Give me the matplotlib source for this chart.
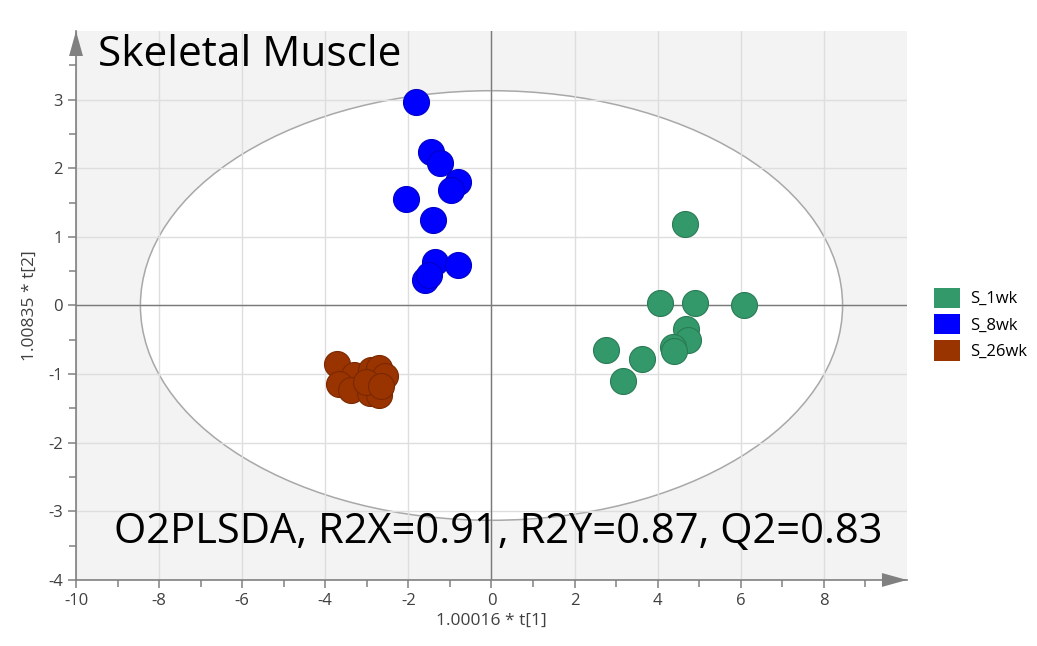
"""O2PLS-DA score plot, skeletal muscle samples."""

import matplotlib.pyplot as plt
import numpy as np
from matplotlib.patches import Ellipse, Patch


plt.rcParams['font.family'] = ['Open Sans', 'DejaVu Sans']
plt.rcParams['axes.unicode_minus'] = False


# ================================ DATA ======================================

groups = ['S_1wk', 'S_8wk', 'S_26wk']
colors = ['#33996a', '#0000ff', '#993300']
edges = ['#2a7a55', '#0000c8', '#7a2800']

t1_1wk = [4.65, 4.06, 4.90, 6.08, 4.69, 4.73, 4.37, 4.39, 2.75, 3.63, 3.16]
t2_1wk = [1.19, 0.03, 0.03, 0.01, -0.34, -0.50, -0.60, -0.67, -0.65, -0.78, -1.10]

t1_8wk = [-1.82, -1.45, -1.24, -0.80, -0.98, -2.05, -1.40, -1.36, -0.80, -1.60, -1.50]
t2_8wk = [2.96, 2.24, 2.08, 1.80, 1.69, 1.55, 1.24, 0.64, 0.59, 0.37, 0.45]

t1_26wk = [-3.72, -3.30, -3.66, -3.38, -2.90, -2.71, -2.56, -2.93, -2.71, -3.02, -2.67]
t2_26wk = [-0.85, -1.02, -1.15, -1.23, -0.94, -0.91, -1.03, -1.28, -1.30, -1.11, -1.18]

scores = [(t1_1wk, t2_1wk), (t1_8wk, t2_8wk), (t1_26wk, t2_26wk)]

# Hotelling T2 ellipse semi-axes
t2_a = 8.45
t2_b = 3.13

title = 'Skeletal Muscle'
stats = 'O2PLSDA, R2X=0.91, R2Y=0.87, Q2=0.83'


# ================================ PLOT ======================================

fig = plt.figure(figsize=(10.37, 6.46), dpi=100)
ax = fig.add_axes([0.0733, 0.1022, 0.8013, 0.8498])

ax.set_facecolor('#f3f3f3')
ax.set_xlim(-10, 10)
ax.set_ylim(-4, 4)

ax.add_patch(Ellipse((0, 0), 2 * t2_a, 2 * t2_b, facecolor='white',
                     edgecolor='#a8a8a8', lw=1.1, zorder=0.3))

ax.set_axisbelow(True)
ax.set_xticks(np.arange(-10, 9, 2))
ax.set_xticks(np.arange(-9, 10, 2), minor=True)
ax.set_yticks(np.arange(-4, 4, 1))
ax.set_yticks(np.arange(-3.5, 4, 1), minor=True)
ax.grid(True, which='major', color='#dedede', lw=1.0)

ax.axhline(0, color='#7a7a7a', lw=1.0, zorder=0.6)
ax.axvline(0, color='#7a7a7a', lw=1.0, zorder=0.6)

for (tx, ty), c, ec in zip(scores, colors, edges):
    ax.scatter(tx, ty, s=350, color=c, edgecolors=ec, linewidths=0.8,
               zorder=3)

for side in ('top', 'right'):
    ax.spines[side].set_visible(False)
for side in ('left', 'bottom'):
    ax.spines[side].set_color('#808080')
    ax.spines[side].set_linewidth(1.2)

ax.tick_params(which='both', direction='out', color='#808080',
               labelcolor='#404040', labelsize=12, width=1.1)
ax.tick_params(which='major', length=6)
ax.tick_params(which='minor', length=5)

# axis arrows
arrow = dict(arrowstyle='-|>,head_length=0.9,head_width=0.25',
             color='#808080', lw=0, mutation_scale=20, shrinkA=0, shrinkB=0)
ax.annotate('', xy=(1.0, 0), xytext=(0.96, 0), xycoords='axes fraction',
            arrowprops=arrow, annotation_clip=False)
ax.annotate('', xy=(0, 1.0), xytext=(0, 0.96), xycoords='axes fraction',
            arrowprops=arrow, annotation_clip=False)

ax.set_xlabel('1.00016 * t[1]', fontsize=12.5, color='#404040', labelpad=3)
ax.set_ylabel('1.00835 * t[2]', fontsize=12.5, color='#404040', labelpad=7)

ax.text(0.027, 0.995, title, transform=ax.transAxes, fontsize=30.5,
        ha='left', va='top')
ax.text(0.046, 0.05, stats, transform=ax.transAxes, fontsize=30,
        ha='left', va='bottom')

handles = [Patch(facecolor=c, edgecolor='none') for c in colors]
fig.legend(handles, groups, loc='upper left', bbox_to_anchor=(0.894, 0.565),
           frameon=False, fontsize=12, handlelength=1.56, handleheight=1.5,
           labelspacing=0.36, handletextpad=0.6, borderaxespad=0)


# ================================ FINAL =====================================

fig.savefig('out.png', dpi=100)
